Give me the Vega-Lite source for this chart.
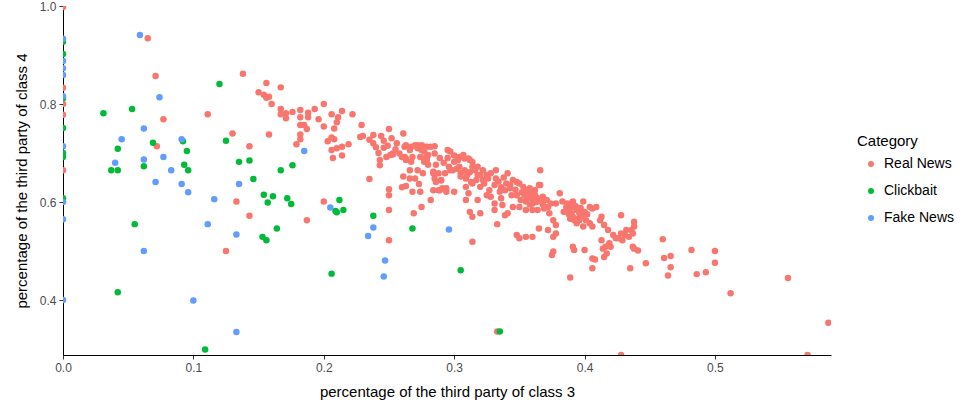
{
 "$schema": "https://vega.github.io/schema/vega-lite/v6.json",
 "width": 768, "height": 349,
 "autosize": {"type": "none"},
 "padding": {"left": 63, "top": 6, "right": 133, "bottom": 53},
 "background": "white",
 "config": {"view": {"stroke": null}, "font": "Liberation Sans"},
 "data": {"values": [
  {"x":0,"y":0.998,"Category":"Real News"},{"x":0,"y":0.833,"Category":"Real News"},{"x":0,"y":0.80,"Category":"Real News"},{"x":0,"y":0.778,"Category":"Real News"},{"x":0,"y":0.665,"Category":"Real News"},
  {"x":0.065,"y":0.934,"Category":"Real News"},{"x":0.071,"y":0.857,"Category":"Real News"},{"x":0.111,"y":0.779,"Category":"Real News"},{"x":0.077,"y":0.769,"Category":"Real News"},{"x":0.130,"y":0.740,"Category":"Real News"},{"x":0.072,"y":0.714,"Category":"Real News"},{"x":0.133,"y":0.601,"Category":"Real News"},{"x":0.125,"y":0.50,"Category":"Real News"},
  {"x":0.138,"y":0.862,"Category":"Real News"},{"x":0.156,"y":0.843,"Category":"Real News"},{"x":0.167,"y":0.834,"Category":"Real News"},{"x":0.150,"y":0.824,"Category":"Real News"},{"x":0.154,"y":0.819,"Category":"Real News"},{"x":0.156,"y":0.813,"Category":"Real News"},{"x":0.158,"y":0.815,"Category":"Real News"},{"x":0.160,"y":0.80,"Category":"Real News"},{"x":0.167,"y":0.790,"Category":"Real News"},{"x":0.167,"y":0.779,"Category":"Real News"},{"x":0.171,"y":0.781,"Category":"Real News"},{"x":0.171,"y":0.771,"Category":"Real News"},{"x":0.176,"y":0.784,"Category":"Real News"},{"x":0.182,"y":0.788,"Category":"Real News"},{"x":0.182,"y":0.773,"Category":"Real News"},{"x":0.188,"y":0.782,"Category":"Real News"},{"x":0.188,"y":0.773,"Category":"Real News"},{"x":0.193,"y":0.790,"Category":"Real News"},{"x":0.200,"y":0.80,"Category":"Real News"},{"x":0.196,"y":0.769,"Category":"Real News"},{"x":0.182,"y":0.757,"Category":"Real News"},{"x":0.185,"y":0.757,"Category":"Real News"},{"x":0.187,"y":0.749,"Category":"Real News"},{"x":0.200,"y":0.754,"Category":"Real News"},{"x":0.182,"y":0.738,"Category":"Real News"},{"x":0.182,"y":0.728,"Category":"Real News"},{"x":0.179,"y":0.718,"Category":"Real News"},{"x":0.206,"y":0.779,"Category":"Real News"},{"x":0.211,"y":0.773,"Category":"Real News"},{"x":0.214,"y":0.786,"Category":"Real News"},{"x":0.222,"y":0.779,"Category":"Real News"},{"x":0.210,"y":0.763,"Category":"Real News"},{"x":0.208,"y":0.750,"Category":"Real News"},{"x":0.203,"y":0.724,"Category":"Real News"},{"x":0.206,"y":0.732,"Category":"Real News"},{"x":0.208,"y":0.728,"Category":"Real News"},{"x":0.206,"y":0.706,"Category":"Real News"},{"x":0.210,"y":0.710,"Category":"Real News"},{"x":0.214,"y":0.713,"Category":"Real News"},{"x":0.219,"y":0.718,"Category":"Real News"},{"x":0.207,"y":0.690,"Category":"Real News"},{"x":0.214,"y":0.695,"Category":"Real News"},{"x":0.158,"y":0.738,"Category":"Real News"},{"x":0.143,"y":0.714,"Category":"Real News"},{"x":0.235,"y":0.647,"Category":"Real News"},{"x":0.229,"y":0.757,"Category":"Real News"},{"x":0.228,"y":0.733,"Category":"Real News"},{"x":0.230,"y":0.735,"Category":"Real News"},{"x":0.235,"y":0.727,"Category":"Real News"},{"x":0.238,"y":0.737,"Category":"Real News"},{"x":0.238,"y":0.720,"Category":"Real News"},{"x":0.240,"y":0.712,"Category":"Real News"},{"x":0.250,"y":0.749,"Category":"Real News"},{"x":0.246,"y":0.725,"Category":"Real News"},{"x":0.246,"y":0.711,"Category":"Real News"},{"x":0.242,"y":0.700,"Category":"Real News"},{"x":0.243,"y":0.686,"Category":"Real News"},{"x":0.243,"y":0.675,"Category":"Real News"},{"x":0.248,"y":0.692,"Category":"Real News"},{"x":0.253,"y":0.697,"Category":"Real News"},{"x":0.261,"y":0.740,"Category":"Real News"},{"x":0.262,"y":0.713,"Category":"Real News"},{"x":0.266,"y":0.706,"Category":"Real News"},{"x":0.260,"y":0.692,"Category":"Real News"},{"x":0.263,"y":0.689,"Category":"Real News"},{"x":0.268,"y":0.692,"Category":"Real News"},{"x":0.272,"y":0.716,"Category":"Real News"},{"x":0.275,"y":0.706,"Category":"Real News"},{"x":0.277,"y":0.713,"Category":"Real News"},{"x":0.279,"y":0.686,"Category":"Real News"},{"x":0.266,"y":0.665,"Category":"Real News"},{"x":0.272,"y":0.665,"Category":"Real News"},{"x":0.261,"y":0.652,"Category":"Real News"},{"x":0.266,"y":0.648,"Category":"Real News"},{"x":0.270,"y":0.648,"Category":"Real News"},{"x":0.276,"y":0.659,"Category":"Real News"},{"x":0.273,"y":0.637,"Category":"Real News"},{"x":0.260,"y":0.630,"Category":"Real News"},{"x":0.263,"y":0.633,"Category":"Real News"},{"x":0.250,"y":0.626,"Category":"Real News"},{"x":0.250,"y":0.614,"Category":"Real News"},{"x":0.275,"y":0.590,"Category":"Real News"},{"x":0.200,"y":0.601,"Category":"Real News"},{"x":0.143,"y":0.572,"Category":"Real News"},{"x":0.187,"y":0.563,"Category":"Real News"},{"x":0.250,"y":0.584,"Category":"Real News"},{"x":0.250,"y":0.522,"Category":"Real News"},{"x":0.269,"y":0.577,"Category":"Real News"},
  {"x":0.282,"y":0.713,"Category":"Real News"},{"x":0.285,"y":0.699,"Category":"Real News"},{"x":0.295,"y":0.706,"Category":"Real News"},{"x":0.297,"y":0.703,"Category":"Real News"},{"x":0.286,"y":0.676,"Category":"Real News"},{"x":0.288,"y":0.659,"Category":"Real News"},{"x":0.290,"y":0.645,"Category":"Real News"},{"x":0.282,"y":0.604,"Category":"Real News"},{"x":0.289,"y":0.624,"Category":"Real News"},{"x":0.294,"y":0.628,"Category":"Real News"},{"x":0.300,"y":0.621,"Category":"Real News"},{"x":0.297,"y":0.665,"Category":"Real News"},{"x":0.303,"y":0.686,"Category":"Real News"},{"x":0.304,"y":0.692,"Category":"Real News"},{"x":0.308,"y":0.689,"Category":"Real News"},{"x":0.312,"y":0.686,"Category":"Real News"},{"x":0.314,"y":0.672,"Category":"Real News"},{"x":0.305,"y":0.659,"Category":"Real News"},{"x":0.309,"y":0.648,"Category":"Real News"},{"x":0.313,"y":0.641,"Category":"Real News"},{"x":0.318,"y":0.655,"Category":"Real News"},{"x":0.322,"y":0.645,"Category":"Real News"},{"x":0.309,"y":0.631,"Category":"Real News"},{"x":0.311,"y":0.618,"Category":"Real News"},{"x":0.309,"y":0.604,"Category":"Real News"},{"x":0.318,"y":0.604,"Category":"Real News"},{"x":0.325,"y":0.614,"Category":"Real News"},{"x":0.312,"y":0.580,"Category":"Real News"},{"x":0.314,"y":0.570,"Category":"Real News"},{"x":0.320,"y":0.577,"Category":"Real News"},{"x":0.314,"y":0.519,"Category":"Real News"},
  {"x":0.263,"y":0.716,"Category":"Real News"},{"x":0.267,"y":0.713,"Category":"Real News"},{"x":0.270,"y":0.716,"Category":"Real News"},{"x":0.272,"y":0.710,"Category":"Real News"},{"x":0.275,"y":0.716,"Category":"Real News"},{"x":0.279,"y":0.713,"Category":"Real News"},{"x":0.277,"y":0.703,"Category":"Real News"},{"x":0.280,"y":0.696,"Category":"Real News"},{"x":0.258,"y":0.699,"Category":"Real News"},{"x":0.262,"y":0.692,"Category":"Real News"},{"x":0.263,"y":0.686,"Category":"Real News"},{"x":0.267,"y":0.682,"Category":"Real News"},{"x":0.274,"y":0.692,"Category":"Real News"},{"x":0.277,"y":0.689,"Category":"Real News"},{"x":0.253,"y":0.699,"Category":"Real News"},{"x":0.251,"y":0.696,"Category":"Real News"},{"x":0.284,"y":0.662,"Category":"Real News"},{"x":0.286,"y":0.641,"Category":"Real News"},{"x":0.290,"y":0.644,"Category":"Real News"},{"x":0.284,"y":0.624,"Category":"Real News"},{"x":0.288,"y":0.624,"Category":"Real News"},{"x":0.291,"y":0.628,"Category":"Real News"},{"x":0.294,"y":0.621,"Category":"Real News"},{"x":0.268,"y":0.621,"Category":"Real News"},{"x":0.274,"y":0.621,"Category":"Real News"},
  {"x":0.244,"y":0.735,"Category":"Real News"},{"x":0.252,"y":0.730,"Category":"Real News"},{"x":0.256,"y":0.720,"Category":"Real News"},{"x":0.249,"y":0.715,"Category":"Real News"},{"x":0.255,"y":0.708,"Category":"Real News"},
  {"x":0.295,"y":0.690,"Category":"Real News"},{"x":0.300,"y":0.695,"Category":"Real News"},{"x":0.292,"y":0.680,"Category":"Real News"},{"x":0.296,"y":0.672,"Category":"Real News"},{"x":0.302,"y":0.668,"Category":"Real News"},{"x":0.289,"y":0.690,"Category":"Real News"},{"x":0.318,"y":0.672,"Category":"Real News"},{"x":0.322,"y":0.665,"Category":"Real News"},{"x":0.326,"y":0.648,"Category":"Real News"},{"x":0.317,"y":0.645,"Category":"Real News"},{"x":0.310,"y":0.655,"Category":"Real News"},
  {"x":0.334,"y":0.642,"Category":"Real News"},{"x":0.338,"y":0.650,"Category":"Real News"},{"x":0.345,"y":0.645,"Category":"Real News"},{"x":0.343,"y":0.635,"Category":"Real News"},{"x":0.347,"y":0.625,"Category":"Real News"},{"x":0.336,"y":0.630,"Category":"Real News"},
  {"x":0.352,"y":0.620,"Category":"Real News"},{"x":0.357,"y":0.618,"Category":"Real News"},{"x":0.360,"y":0.607,"Category":"Real News"},{"x":0.363,"y":0.600,"Category":"Real News"},{"x":0.356,"y":0.608,"Category":"Real News"},{"x":0.361,"y":0.620,"Category":"Real News"},{"x":0.368,"y":0.595,"Category":"Real News"},{"x":0.372,"y":0.590,"Category":"Real News"},{"x":0.358,"y":0.595,"Category":"Real News"},
  {"x":0.386,"y":0.590,"Category":"Real News"},{"x":0.388,"y":0.575,"Category":"Real News"},{"x":0.393,"y":0.592,"Category":"Real News"},{"x":0.397,"y":0.588,"Category":"Real News"},{"x":0.400,"y":0.580,"Category":"Real News"},{"x":0.398,"y":0.570,"Category":"Real News"},{"x":0.395,"y":0.566,"Category":"Real News"},{"x":0.402,"y":0.575,"Category":"Real News"},{"x":0.384,"y":0.580,"Category":"Real News"},{"x":0.389,"y":0.566,"Category":"Real News"},
  {"x":0.285,"y":0.714,"Category":"Real News"},{"x":0.279,"y":0.692,"Category":"Real News"},{"x":0.277,"y":0.682,"Category":"Real News"},{"x":0.280,"y":0.676,"Category":"Real News"},{"x":0.284,"y":0.659,"Category":"Real News"},{"x":0.285,"y":0.648,"Category":"Real News"},{"x":0.293,"y":0.659,"Category":"Real News"},{"x":0.299,"y":0.665,"Category":"Real News"},{"x":0.300,"y":0.682,"Category":"Real News"},{"x":0.307,"y":0.696,"Category":"Real News"},{"x":0.311,"y":0.689,"Category":"Real News"},{"x":0.314,"y":0.682,"Category":"Real News"},{"x":0.304,"y":0.672,"Category":"Real News"},{"x":0.308,"y":0.665,"Category":"Real News"},{"x":0.312,"y":0.661,"Category":"Real News"},{"x":0.316,"y":0.665,"Category":"Real News"},{"x":0.305,"y":0.652,"Category":"Real News"},{"x":0.314,"y":0.638,"Category":"Real News"},{"x":0.320,"y":0.631,"Category":"Real News"},{"x":0.323,"y":0.638,"Category":"Real News"},{"x":0.320,"y":0.655,"Category":"Real News"},{"x":0.325,"y":0.655,"Category":"Real News"},{"x":0.328,"y":0.659,"Category":"Real News"},{"x":0.332,"y":0.665,"Category":"Real News"},{"x":0.332,"y":0.648,"Category":"Real News"},{"x":0.331,"y":0.635,"Category":"Real News"},{"x":0.327,"y":0.624,"Category":"Real News"},{"x":0.328,"y":0.611,"Category":"Real News"},{"x":0.331,"y":0.597,"Category":"Real News"},{"x":0.331,"y":0.584,"Category":"Real News"},{"x":0.341,"y":0.659,"Category":"Real News"},{"x":0.340,"y":0.638,"Category":"Real News"},{"x":0.339,"y":0.624,"Category":"Real News"},{"x":0.343,"y":0.628,"Category":"Real News"},{"x":0.335,"y":0.621,"Category":"Real News"},{"x":0.336,"y":0.608,"Category":"Real News"},{"x":0.337,"y":0.594,"Category":"Real News"},{"x":0.344,"y":0.614,"Category":"Real News"},{"x":0.348,"y":0.614,"Category":"Real News"},{"x":0.351,"y":0.604,"Category":"Real News"},{"x":0.345,"y":0.590,"Category":"Real News"},{"x":0.350,"y":0.590,"Category":"Real News"},{"x":0.339,"y":0.573,"Category":"Real News"},{"x":0.341,"y":0.577,"Category":"Real News"},{"x":0.333,"y":0.555,"Category":"Real News"},{"x":0.348,"y":0.641,"Category":"Real News"},{"x":0.350,"y":0.638,"Category":"Real News"},{"x":0.353,"y":0.631,"Category":"Real News"},{"x":0.355,"y":0.624,"Category":"Real News"},{"x":0.358,"y":0.628,"Category":"Real News"},{"x":0.362,"y":0.624,"Category":"Real News"},{"x":0.365,"y":0.635,"Category":"Real News"},{"x":0.354,"y":0.614,"Category":"Real News"},{"x":0.358,"y":0.611,"Category":"Real News"},{"x":0.362,"y":0.614,"Category":"Real News"},{"x":0.355,"y":0.601,"Category":"Real News"},{"x":0.360,"y":0.597,"Category":"Real News"},{"x":0.364,"y":0.608,"Category":"Real News"},{"x":0.367,"y":0.601,"Category":"Real News"},{"x":0.355,"y":0.584,"Category":"Real News"},{"x":0.360,"y":0.584,"Category":"Real News"},{"x":0.364,"y":0.584,"Category":"Real News"},{"x":0.348,"y":0.533,"Category":"Real News"},{"x":0.350,"y":0.526,"Category":"Real News"},{"x":0.355,"y":0.529,"Category":"Real News"},{"x":0.360,"y":0.529,"Category":"Real News"},{"x":0.365,"y":0.546,"Category":"Real News"},{"x":0.368,"y":0.611,"Category":"Real News"},{"x":0.371,"y":0.604,"Category":"Real News"},{"x":0.374,"y":0.597,"Category":"Real News"},{"x":0.378,"y":0.597,"Category":"Real News"},{"x":0.381,"y":0.618,"Category":"Real News"},{"x":0.369,"y":0.587,"Category":"Real News"},{"x":0.373,"y":0.577,"Category":"Real News"},{"x":0.376,"y":0.563,"Category":"Real News"},{"x":0.378,"y":0.553,"Category":"Real News"},{"x":0.372,"y":0.543,"Category":"Real News"},{"x":0.376,"y":0.529,"Category":"Real News"},{"x":0.378,"y":0.536,"Category":"Real News"},{"x":0.376,"y":0.499,"Category":"Real News"},{"x":0.375,"y":0.492,"Category":"Real News"},{"x":0.366,"y":0.665,"Category":"Real News"},{"x":0.366,"y":0.635,"Category":"Real News"},{"x":0.383,"y":0.601,"Category":"Real News"},{"x":0.387,"y":0.597,"Category":"Real News"},{"x":0.391,"y":0.601,"Category":"Real News"},{"x":0.390,"y":0.590,"Category":"Real News"},{"x":0.394,"y":0.584,"Category":"Real News"},{"x":0.396,"y":0.577,"Category":"Real News"},{"x":0.396,"y":0.563,"Category":"Real News"},{"x":0.394,"y":0.557,"Category":"Real News"},{"x":0.387,"y":0.584,"Category":"Real News"},{"x":0.390,"y":0.577,"Category":"Real News"},{"x":0.391,"y":0.570,"Category":"Real News"},{"x":0.392,"y":0.563,"Category":"Real News"},{"x":0.399,"y":0.601,"Category":"Real News"},{"x":0.404,"y":0.590,"Category":"Real News"},{"x":0.406,"y":0.587,"Category":"Real News"},{"x":0.409,"y":0.590,"Category":"Real News"},{"x":0.401,"y":0.563,"Category":"Real News"},{"x":0.399,"y":0.550,"Category":"Real News"},{"x":0.404,"y":0.557,"Category":"Real News"},{"x":0.406,"y":0.550,"Category":"Real News"},{"x":0.412,"y":0.563,"Category":"Real News"},{"x":0.413,"y":0.570,"Category":"Real News"},{"x":0.391,"y":0.509,"Category":"Real News"},{"x":0.392,"y":0.502,"Category":"Real News"},{"x":0.400,"y":0.502,"Category":"Real News"},{"x":0.406,"y":0.485,"Category":"Real News"},{"x":0.414,"y":0.505,"Category":"Real News"},{"x":0.406,"y":0.465,"Category":"Real News"},{"x":0.389,"y":0.446,"Category":"Real News"},{"x":0.413,"y":0.522,"Category":"Real News"},{"x":0.419,"y":0.516,"Category":"Real News"},{"x":0.420,"y":0.509,"Category":"Real News"},{"x":0.417,"y":0.495,"Category":"Real News"},{"x":0.415,"y":0.488,"Category":"Real News"},{"x":0.422,"y":0.533,"Category":"Real News"},{"x":0.426,"y":0.526,"Category":"Real News"},{"x":0.428,"y":0.536,"Category":"Real News"},{"x":0.432,"y":0.543,"Category":"Real News"},{"x":0.436,"y":0.543,"Category":"Real News"},{"x":0.438,"y":0.550,"Category":"Real News"},{"x":0.437,"y":0.536,"Category":"Real News"},{"x":0.434,"y":0.529,"Category":"Real News"},{"x":0.429,"y":0.522,"Category":"Real News"},{"x":0.428,"y":0.573,"Category":"Real News"},{"x":0.437,"y":0.509,"Category":"Real News"},{"x":0.435,"y":0.465,"Category":"Real News"},{"x":0.438,"y":0.560,"Category":"Real News"},{"x":0.431,"y":0.533,"Category":"Real News"},{"x":0.424,"y":0.526,"Category":"Real News"},{"x":0.438,"y":0.505,"Category":"Real News"},{"x":0.408,"y":0.483,"Category":"Real News"},{"x":0.415,"y":0.553,"Category":"Real News"},{"x":0.418,"y":0.543,"Category":"Real News"},{"x":0.416,"y":0.509,"Category":"Real News"},{"x":0.441,"y":0.501,"Category":"Real News"},{"x":0.447,"y":0.475,"Category":"Real News"},{"x":0.460,"y":0.524,"Category":"Real News"},{"x":0.461,"y":0.486,"Category":"Real News"},{"x":0.466,"y":0.490,"Category":"Real News"},{"x":0.466,"y":0.467,"Category":"Real News"},{"x":0.464,"y":0.450,"Category":"Real News"},{"x":0.482,"y":0.502,"Category":"Real News"},{"x":0.486,"y":0.453,"Category":"Real News"},{"x":0.493,"y":0.457,"Category":"Real News"},{"x":0.500,"y":0.500,"Category":"Real News"},{"x":0.500,"y":0.476,"Category":"Real News"},{"x":0.512,"y":0.414,"Category":"Real News"},{"x":0.556,"y":0.445,"Category":"Real News"},{"x":0.587,"y":0.354,"Category":"Real News"},{"x":0.428,"y":0.288,"Category":"Real News"},{"x":0.571,"y":0.288,"Category":"Real News"},{"x":0.333,"y":0.336,"Category":"Real News"},
  {"x":0,"y":0.927,"Category":"Clickbait"},{"x":0,"y":0.902,"Category":"Clickbait"},{"x":0,"y":0.812,"Category":"Clickbait"},{"x":0,"y":0.751,"Category":"Clickbait"},{"x":0,"y":0.700,"Category":"Clickbait"},{"x":0,"y":0.692,"Category":"Clickbait"},{"x":0,"y":0.608,"Category":"Clickbait"},
  {"x":0.120,"y":0.841,"Category":"Clickbait"},{"x":0.031,"y":0.781,"Category":"Clickbait"},{"x":0.053,"y":0.790,"Category":"Clickbait"},{"x":0.069,"y":0.721,"Category":"Clickbait"},{"x":0.092,"y":0.724,"Category":"Clickbait"},{"x":0.125,"y":0.725,"Category":"Clickbait"},{"x":0.042,"y":0.709,"Category":"Clickbait"},{"x":0.095,"y":0.704,"Category":"Clickbait"},{"x":0.062,"y":0.673,"Category":"Clickbait"},{"x":0.093,"y":0.676,"Category":"Clickbait"},{"x":0.037,"y":0.665,"Category":"Clickbait"},{"x":0.042,"y":0.665,"Category":"Clickbait"},{"x":0.096,"y":0.665,"Category":"Clickbait"},{"x":0.135,"y":0.682,"Category":"Clickbait"},{"x":0.055,"y":0.555,"Category":"Clickbait"},{"x":0.042,"y":0.416,"Category":"Clickbait"},{"x":0.109,"y":0.299,"Category":"Clickbait"},{"x":0.157,"y":0.599,"Category":"Clickbait"},{"x":0.175,"y":0.596,"Category":"Clickbait"},{"x":0.209,"y":0.582,"Category":"Clickbait"},{"x":0.210,"y":0.579,"Category":"Clickbait"},{"x":0.215,"y":0.584,"Category":"Clickbait"},{"x":0.212,"y":0.604,"Category":"Clickbait"},{"x":0.153,"y":0.529,"Category":"Clickbait"},{"x":0.156,"y":0.522,"Category":"Clickbait"},{"x":0.164,"y":0.546,"Category":"Clickbait"},{"x":0.238,"y":0.572,"Category":"Clickbait"},{"x":0.268,"y":0.546,"Category":"Clickbait"},{"x":0.206,"y":0.454,"Category":"Clickbait"},{"x":0.143,"y":0.685,"Category":"Clickbait"},{"x":0.167,"y":0.665,"Category":"Clickbait"},{"x":0.176,"y":0.675,"Category":"Clickbait"},{"x":0.146,"y":0.647,"Category":"Clickbait"},{"x":0.154,"y":0.615,"Category":"Clickbait"},{"x":0.161,"y":0.612,"Category":"Clickbait"},{"x":0.172,"y":0.608,"Category":"Clickbait"},{"x":0.305,"y":0.461,"Category":"Clickbait"},{"x":0.335,"y":0.336,"Category":"Clickbait"},
  {"x":0,"y":0.933,"Category":"Fake News"},{"x":0,"y":0.888,"Category":"Fake News"},{"x":0,"y":0.873,"Category":"Fake News"},{"x":0,"y":0.859,"Category":"Fake News"},{"x":0,"y":0.816,"Category":"Fake News"},{"x":0,"y":0.714,"Category":"Fake News"},{"x":0,"y":0.600,"Category":"Fake News"},{"x":0,"y":0.565,"Category":"Fake News"},{"x":0,"y":0.400,"Category":"Fake News"},
  {"x":0.059,"y":0.941,"Category":"Fake News"},{"x":0.074,"y":0.814,"Category":"Fake News"},{"x":0.062,"y":0.750,"Category":"Fake News"},{"x":0.045,"y":0.728,"Category":"Fake News"},{"x":0.091,"y":0.728,"Category":"Fake News"},{"x":0.077,"y":0.692,"Category":"Fake News"},{"x":0.062,"y":0.687,"Category":"Fake News"},{"x":0.040,"y":0.680,"Category":"Fake News"},{"x":0.083,"y":0.665,"Category":"Fake News"},{"x":0.071,"y":0.641,"Category":"Fake News"},{"x":0.091,"y":0.637,"Category":"Fake News"},{"x":0.096,"y":0.620,"Category":"Fake News"},{"x":0.135,"y":0.637,"Category":"Fake News"},{"x":0.116,"y":0.606,"Category":"Fake News"},{"x":0.111,"y":0.555,"Category":"Fake News"},{"x":0.133,"y":0.534,"Category":"Fake News"},{"x":0.062,"y":0.500,"Category":"Fake News"},{"x":0.100,"y":0.399,"Category":"Fake News"},{"x":0.133,"y":0.335,"Category":"Fake News"},{"x":0.205,"y":0.589,"Category":"Fake News"},{"x":0.238,"y":0.548,"Category":"Fake News"},{"x":0.234,"y":0.531,"Category":"Fake News"},{"x":0.247,"y":0.481,"Category":"Fake News"},{"x":0.246,"y":0.448,"Category":"Fake News"},{"x":0.185,"y":0.704,"Category":"Fake News"},{"x":0.296,"y":0.544,"Category":"Fake News"}
 ]},
 "mark": {"type": "circle", "size": 42, "opacity": 1, "clip": true},
 "encoding": {
  "x": {"field": "x", "type": "quantitative",
   "scale": {"domain": [0, 0.589], "nice": false, "zero": false},
   "axis": {"title": "percentage of the third party of class 3", "values": [0, 0.1, 0.2, 0.3, 0.4, 0.5], "format": ".1f", "grid": false, "labelFlush": false,
    "domainColor": "#000000", "tickColor": "#333333", "tickSize": 4, "labelColor": "#4d4d4d", "labelFontSize": 12, "labelPadding": 3,
    "titleFontSize": 15, "titleFontWeight": "normal", "titleColor": "#000000", "titlePadding": 11}},
  "y": {"field": "y", "type": "quantitative",
   "scale": {"domain": [0.288, 1.0], "nice": false, "zero": false},
   "axis": {"title": "percentage of the third party of class 4", "values": [0.4, 0.6, 0.8, 1.0], "format": ".1f", "grid": false, "labelFlush": false,
    "domainColor": "#000000", "tickColor": "#333333", "tickSize": 4, "labelColor": "#4d4d4d", "labelFontSize": 12, "labelPadding": 3,
    "titleFontSize": 15, "titleFontWeight": "normal", "titleColor": "#000000", "titlePadding": 10}},
  "color": {"field": "Category", "type": "nominal",
   "scale": {"domain": ["Real News", "Clickbait", "Fake News"], "range": ["#F8766D", "#00BA38", "#619CFF"]},
   "sort": ["Real News", "Clickbait", "Fake News"],
   "legend": {"orient": "none", "legendX": 794, "legendY": 128, "title": "Category", "titleFontSize": 15, "titleFontWeight": "normal", "titleColor": "#000000",
    "labelFontSize": 14, "labelColor": "#000000", "symbolType": "circle", "symbolSize": 36, "symbolOffset": 7, "labelOffset": 6, "rowPadding": 13, "titlePadding": 8}}
 }
}
